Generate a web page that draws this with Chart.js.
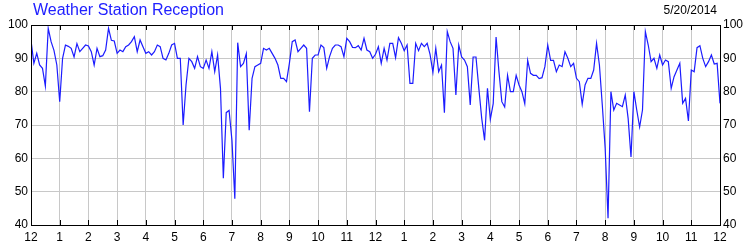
<!DOCTYPE html>
<html>
<head>
<meta charset="utf-8">
<title>Weather Station Reception</title>
<script src="https://cdn.jsdelivr.net/npm/chart.js@4.4.1/dist/chart.umd.min.js"></script>
<style>
    html, body { margin: 0; padding: 0; background: #fff; }
    #wrap { width: 750px; height: 250px; }
</style>
</head>
<body>
<div id="wrap"><canvas id="receptionChart" width="750" height="250"></canvas></div>
<script>
const chartTitle = 'Weather Station Reception';
const chartDate = '5/20/2014';

// hour tick labels, midnight to midnight
const hourLabels = ['12', '1', '2', '3', '4', '5', '6', '7', '8', '9', '10', '11',
                    '12', '1', '2', '3', '4', '5', '6', '7', '8', '9', '10', '11', '12'];

// reception %, one reading every 6 minutes
const receptionNight = [
    95.4, 88.5, 91.5, 88, 87, 81.7, 99, 95, 92.4, 88,
    77, 90, 94, 93.6, 93, 90.4, 94.4, 92, 93, 94,
    93.7, 92, 88, 93, 90.5, 90.8, 92.5, 99, 95.4, 95.2,
    91.5, 92.5, 92, 93.5, 94, 95, 96.5, 92, 95.5, 93.5,
    91.5, 92, 91, 92, 94, 93.5, 90, 89.5, 91.5, 94,
    94.5, 90, 90, 70, 82, 90, 89, 87, 90.5, 87.5
];
const receptionMorning = [
    87, 89.5, 87, 92, 86, 91, 81, 54, 73.7, 74.4,
    65.4, 47.9, 94.7, 87.5, 88.5, 91.4, 68.4, 84, 87.5, 88,
    88.5, 93, 92.5, 93, 91.5, 90, 88, 84, 84, 83,
    88.5, 95, 95.5, 92, 93, 94, 93, 74, 90, 91,
    91, 94, 93.2, 87, 90.5, 93, 94, 94, 93.5, 90.5,
    96, 95, 93.3, 93.2, 93.8, 92.5, 96, 92.5, 92, 90
];
const receptionAfternoon = [
    91.2, 93.5, 88.5, 93, 89.5, 94.5, 94.5, 90.2, 96.2, 94.5,
    92.3, 94, 82.5, 82.5, 94.5, 92.3, 94.5, 93.5, 94.5, 91.2,
    85.8, 93, 86, 88, 73.7, 98, 95, 93, 79, 94,
    90.4, 89.5, 87.5, 76, 90.4, 90.4, 81, 72, 65.4, 81,
    71.7, 76.4, 96.4, 86, 77, 75.4, 84.9, 80, 80, 84.9,
    82, 80, 76.4, 89.4, 85.5, 84.9, 84.9, 83.9, 84.2, 87.5
];
const receptionEvening = [
    94, 89.4, 89.4, 86, 88, 87.5, 92, 90, 87.5, 88.5,
    84, 83, 76.2, 82, 84, 84, 86.5, 94.5, 88, 76,
    63, 42, 80, 74.5, 76.5, 76, 75.5, 79, 72, 60.4,
    80, 74.5, 69.4, 74.5, 98, 94, 89, 90, 87, 91,
    88, 89.5, 89, 81, 84.5, 86.5, 88.5, 76.5, 78, 71.2,
    86.5, 86, 93.2, 93.8, 90, 87.5, 89, 91, 88.3, 88.5,
    76.5
];

const readingsPerHour = 10;
const reception = receptionNight.concat(receptionMorning, receptionAfternoon, receptionEvening);
const points = reception.map((v, i) => ({ x: i / readingsPerHour, y: v }));

const fontFamily = '"Liberation Sans", Arial, sans-serif';

// frame, inner hour ticks, title and date
const frameExtras = {
    id: 'frameExtras',
    afterDraw(chart) {
        const { ctx, chartArea: a, scales: { x } } = chart;
        ctx.save();
        ctx.strokeStyle = '#000';
        ctx.lineWidth = 1;
        ctx.beginPath();
        for (let h = 1; h < hourLabels.length - 1; h++) {
            const px = Math.round(x.getPixelForValue(h)) + 0.5;
            ctx.moveTo(px, a.top);
            ctx.lineTo(px, a.top + 5);
            ctx.moveTo(px, a.bottom);
            ctx.lineTo(px, a.bottom - 5);
        }
        ctx.stroke();
        ctx.strokeRect(Math.round(a.left) + 0.5, Math.round(a.top) + 0.5,
                       Math.round(a.right - a.left), Math.round(a.bottom - a.top));

        ctx.textBaseline = 'middle';
        ctx.font = '16px ' + fontFamily;
        ctx.fillStyle = '#2020ff';
        ctx.textAlign = 'left';
        ctx.fillText(chartTitle, 33, 11);
        ctx.font = '12px ' + fontFamily;
        ctx.fillStyle = '#000';
        ctx.textAlign = 'right';
        ctx.fillText(chartDate, 717, 11);
        ctx.restore();
    }
};

function initChart() {
    const ctx = document.getElementById('receptionChart').getContext('2d');
    const tickFont = { family: fontFamily, size: 12 };

    new Chart(ctx, {
        type: 'line',
        data: {
            datasets: [{
                label: 'Reception',
                data: points,
                borderColor: '#1c1cff',
                borderWidth: 1.2,
                pointRadius: 0,
                tension: 0,
                fill: false
            }]
        },
        options: {
            responsive: false,
            animation: false,
            devicePixelRatio: 1,
            layout: { padding: { top: 25, left: 0, right: 0, bottom: 0 } },
            plugins: {
                legend: { display: false },
                tooltip: { enabled: false }
            },
            scales: {
                x: {
                    type: 'linear',
                    min: 0,
                    max: hourLabels.length - 1,
                    afterFit: s => { s.height = 25; },
                    border: { display: false },
                    grid: { color: '#c8c8c8', drawTicks: false },
                    ticks: {
                        stepSize: 1,
                        autoSkip: false,
                        maxRotation: 0,
                        padding: 5,
                        color: '#000',
                        font: tickFont,
                        callback: v => hourLabels[v]
                    }
                },
                y: {
                    position: 'left',
                    min: 40,
                    max: 100,
                    afterFit: s => { s.width = 31; },
                    border: { display: false },
                    grid: { color: '#c8c8c8', drawTicks: false },
                    ticks: { stepSize: 10, padding: 3, color: '#000', font: tickFont }
                },
                y2: {
                    position: 'right',
                    min: 40,
                    max: 100,
                    afterFit: s => { s.width = 30; },
                    border: { display: false },
                    grid: { display: false, drawTicks: false },
                    ticks: { stepSize: 10, padding: 3, color: '#000', font: tickFont }
                }
            }
        },
        plugins: [frameExtras]
    });
}

document.addEventListener('DOMContentLoaded', initChart);
</script>
</body>
</html>
